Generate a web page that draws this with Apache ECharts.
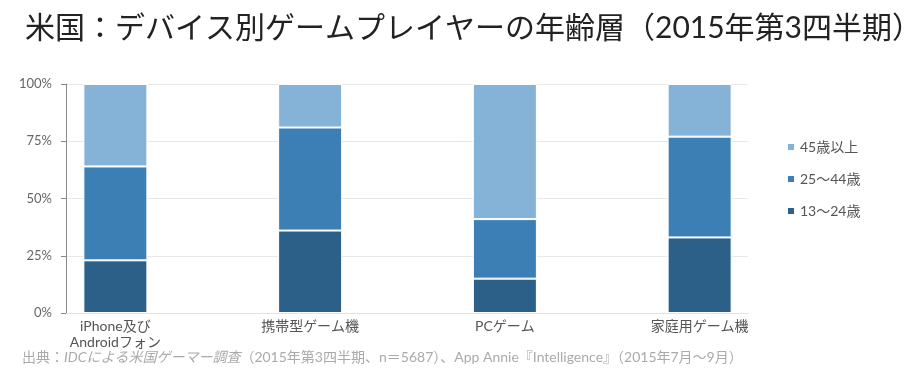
<!DOCTYPE html>
<html>
<head>
<meta charset="utf-8">
<script src="https://cdn.jsdelivr.net/npm/echarts@6/dist/echarts.min.js"></script>
<style>html,body{margin:0;padding:0;background:#fff}#c{width:919px;height:375px}</style>
</head>
<body>
<div id="c"></div>
<script>
const categories = ['iPhone及び\nAndroidフォン', '携帯型ゲーム機', 'PCゲーム', '家庭用ゲーム機'];
const age13to24 = [23, 36, 15, 33];
const age25to44 = [41, 45, 26, 44];
const age45plus = [36, 19, 59, 23];

const FONT = "Lato, 'Noto Sans CJK JP', sans-serif";

const chart = echarts.init(document.getElementById('c'));
chart.setOption({
  animation: false,
  textStyle: { fontFamily: FONT },
  title: {
    text: '米国：デバイス別ゲームプレイヤーの年齢層（2015年第3四半期）',
    left: 20, top: 8,
    textStyle: { fontFamily: FONT, fontSize: 30, fontWeight: 'normal', color: '#222' }
  },
  grid: [
    { left: 18, right: 122, top: 84, bottom: 62 },
    { left: 66, right: 171, top: 84, bottom: 62 }
  ],
  legend: {
    orient: 'vertical', left: 781, top: 135,
    itemWidth: 8, itemHeight: 8, itemGap: 18,
    icon: 'rect',
    data: ['45歳以上', '25〜44歳', '13〜24歳'],
    textStyle: { fontFamily: FONT, fontSize: 14, color: '#555' }
  },
  xAxis: [
    {
      type: 'category', gridIndex: 0, data: categories, boundaryGap: true,
      axisLine: { show: false }, axisTick: { show: false }, splitLine: { show: false },
      axisLabel: { interval: 0, fontFamily: FONT, fontSize: 14, color: '#555', lineHeight: 16, margin: 5 }
    },
    {
      type: 'value', gridIndex: 1, min: 0, max: 1,
      axisLine: { show: true, onZero: false, lineStyle: { color: '#e2e2e2' } },
      axisTick: { show: false }, splitLine: { show: false }, axisLabel: { show: false }
    }
  ],
  yAxis: [
    { type: 'value', gridIndex: 0, min: 0, max: 100, show: false },
    {
      type: 'value', gridIndex: 1, min: 0, max: 100, interval: 25,
      axisLine: { show: true, onZero: false, lineStyle: { color: '#888' } },
      axisTick: { show: true, length: 5, lineStyle: { color: '#888' } },
      splitLine: { show: true, lineStyle: { color: '#e8e8e8' } },
      axisLabel: { formatter: '{value}%', fontFamily: FONT, fontSize: 13, color: '#666', margin: 14 }
    }
  ],
  series: [
    { name: '13〜24歳', type: 'bar', stack: 'a', barWidth: 64, data: age13to24,
      xAxisIndex: 0, yAxisIndex: 0,
      itemStyle: { color: '#2c6088', borderColor: '#fff', borderWidth: 1 } },
    { name: '25〜44歳', type: 'bar', stack: 'a', barWidth: 64, data: age25to44,
      xAxisIndex: 0, yAxisIndex: 0,
      itemStyle: { color: '#3b7fb4', borderColor: '#fff', borderWidth: 1 } },
    { name: '45歳以上', type: 'bar', stack: 'a', barWidth: 64, data: age45plus,
      xAxisIndex: 0, yAxisIndex: 0,
      itemStyle: { color: '#85b3d8', borderColor: '#fff', borderWidth: 1 } }
  ],
  graphic: [{
    type: 'text', left: 22, top: 350,
    style: {
      text: '{a|出典：}{b|IDCによる米国ゲーマー調査}{a|（2015年第3四半期、n＝5687）、App Annie『Intelligence』（2015年7月〜9月）}',
      rich: {
        a: { fontFamily: FONT, fontSize: 14, fill: '#aaa' },
        b: { fontFamily: FONT, fontSize: 14, fill: '#aaa', fontStyle: 'italic' }
      }
    }
  }]
});
</script>
</body>
</html>
